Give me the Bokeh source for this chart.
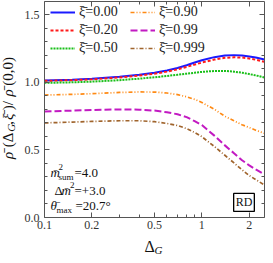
import math
from bokeh.plotting import figure
from bokeh.models import (Range1d, FixedTicker, LinearAxis, LogAxis, Legend,
                          LegendItem, Label)
from bokeh.embed import file_html
from bokeh.resources import INLINE

# ---------------- data ----------------
delta_g = [0.1, 0.15, 0.2, 0.3, 0.4, 0.5, 0.6, 0.7, 0.8, 0.9, 1.0, 1.2, 1.4,
           1.6, 1.8, 2.0, 2.2, 2.5]
rho_xi_000 = [1.013, 1.018, 1.025, 1.040, 1.055, 1.070, 1.087, 1.105, 1.125,
              1.145, 1.162, 1.185, 1.197, 1.200, 1.197, 1.190, 1.182, 1.168]
rho_xi_020 = [1.010, 1.015, 1.021, 1.035, 1.049, 1.063, 1.078, 1.095, 1.113,
              1.130, 1.145, 1.167, 1.180, 1.184, 1.182, 1.175, 1.166, 1.150]
rho_xi_050 = [0.995, 0.999, 1.004, 1.015, 1.026, 1.036, 1.046, 1.055, 1.063,
              1.070, 1.076, 1.083, 1.083, 1.078, 1.070, 1.060, 1.050, 1.035]
rho_xi_090 = [0.905, 0.910, 0.915, 0.924, 0.928, 0.927, 0.920, 0.908, 0.892,
              0.873, 0.850, 0.800, 0.748, 0.715, 0.685, 0.665, 0.645, 0.622]
rho_xi_099 = [0.783, 0.790, 0.795, 0.799, 0.797, 0.790, 0.778, 0.763, 0.742,
              0.712, 0.683, 0.605, 0.533, 0.475, 0.423, 0.385, 0.355, 0.318]
rho_xi_0999 = [0.699, 0.705, 0.710, 0.715, 0.715, 0.708, 0.695, 0.680, 0.657,
               0.628, 0.597, 0.525, 0.460, 0.403, 0.352, 0.310, 0.280, 0.240]
series_labels = ["ξ̄=0.00", "ξ̄=0.20", "ξ̄=0.50", "ξ̄=0.90", "ξ̄=0.99", "ξ̄=0.999"]
x_major = [0.1, 0.2, 0.5, 1, 2]
x_minor = [0.3, 0.4, 0.6, 0.7, 0.8, 0.9]
x_tick_labels = ["0.1", "0.2", "0.5", "1", "2"]
y_major = [0.0, 0.5, 1.0, 1.5]
y_minor = [0.1, 0.2, 0.3, 0.4, 0.6, 0.7, 0.8, 0.9, 1.1, 1.2, 1.3, 1.4]
y_tick_labels = ["0.0", "0.5", "1.0", "1.5"]

# ---------------- layout / styles ----------------
X0, X1, Y0, Y1 = 0.1, 2.5, 0.0, 1.6
PAGE_W, PAGE_H = 265, 255           # figure size, placed at page (8, 8)
REF_L, REF_R = 52, 272              # page x of X0 and X1
REF_B, REF_T = 223, 1               # page y of Y0 and Y1 in the reference
NEW_B, NEW_T = 225, 8.5             # page y of Y0 and Y1 here
SERIF = "Liberation Serif"
AX_COL = "#555555"
colors = ["#1a1aff", "#ff1a1a", "#19bf19", "#ff8a14", "#c21ac2", "#a0642c"]
dashes = ["solid", "3 2", "2 1", "4 2 1 2 1 2", "7 3", "4 2 1 2"]
widths = [2.0, 2.0, 2.0, 1.7, 2.0, 1.7]

kx = (math.log10(X1) - math.log10(X0)) / (REF_R - REF_L)
x_lo = 10 ** (math.log10(X0) - (REF_L - 8) * kx)
x_hi = 10 ** (math.log10(X0) + (8 + PAGE_W - REF_L) * kx)
ky = (Y1 - Y0) / (NEW_B - NEW_T)
y_lo = Y0 - (8 + PAGE_H - NEW_B) * ky
y_hi = Y1 + (NEW_T - 8) * ky


def xd(px):
    """reference page x -> data x"""
    return 10 ** (math.log10(X0) + (px - REF_L) * kx)


def yd(py):
    """reference page y -> data y"""
    return Y0 + (REF_B - py) / (REF_B - REF_T) * (Y1 - Y0)


def y_new(py):
    """reference page y -> page y here"""
    return NEW_B - (REF_B - py) * (NEW_B - NEW_T) / (REF_B - REF_T)


p = figure(width=PAGE_W, height=PAGE_H, x_axis_type="log",
           x_range=Range1d(x_lo, x_hi), y_range=Range1d(y_lo, y_hi),
           output_backend="svg", toolbar_location=None, min_border=0)
p.xgrid.visible = False
p.ygrid.visible = False
p.outline_line_color = None
p.background_fill_color = "white"
p.border_fill_color = "white"


def style_axis(ax, labels):
    ax.major_tick_in = 5
    ax.major_tick_out = 0
    ax.minor_tick_in = 3
    ax.minor_tick_out = 0
    ax.axis_line_color = AX_COL
    ax.major_tick_line_color = AX_COL
    ax.minor_tick_line_color = AX_COL
    ax.major_label_text_font = SERIF
    ax.major_label_text_font_size = "12px"
    ax.major_label_text_color = "#333333"
    ax.major_label_overrides = labels


xt = FixedTicker(ticks=x_major, minor_ticks=x_minor)
yt = FixedTicker(ticks=y_major, minor_ticks=y_minor)
x_lab = {v: s for v, s in zip(x_major, x_tick_labels)}
y_lab = {v: s for v, s in zip(y_major, y_tick_labels)}

bottom = p.xaxis[0]
bottom.ticker = xt
bottom.fixed_location = Y0
bottom.bounds = (X0, X1)
style_axis(bottom, x_lab)
bottom.major_label_standoff = 3

left = p.yaxis[0]
left.ticker = yt
left.fixed_location = X0
left.bounds = (Y0, Y1)
style_axis(left, y_lab)
left.major_label_standoff = 5

top = LogAxis(ticker=xt, fixed_location=Y1, bounds=(X0, X1))
style_axis(top, {v: "" for v in x_major})
p.add_layout(top, "above")
right = LinearAxis(ticker=yt, fixed_location=X1, bounds=(Y0, Y1))
style_axis(right, {v: "" for v in y_major})
p.add_layout(right, "right")

all_series = [rho_xi_000, rho_xi_020, rho_xi_050, rho_xi_090, rho_xi_099, rho_xi_0999]
renderers = []
for ys, c, d, w in zip(all_series, colors, dashes, widths):
    renderers.append(p.line(delta_g, ys, line_color=c, line_dash=d, line_width=w))

LEG_ROW, LEG_SP = 16, 2
leg_top = y_new(13) - LEG_ROW / 2
leg_bottom_off = (8 + PAGE_H) - (leg_top + 3 * LEG_ROW + 2 * LEG_SP)


def make_legend(idx, page_x):
    items = [LegendItem(label=series_labels[i], renderers=[renderers[i]]) for i in idx]
    return Legend(items=items, location=(page_x - 8, round(leg_bottom_off)),
                  padding=0, margin=0, spacing=LEG_SP, glyph_width=25,
                  glyph_height=LEG_ROW, label_height=LEG_ROW, label_standoff=4,
                  border_line_alpha=0, background_fill_alpha=0,
                  label_text_font=SERIF, label_text_font_size="14px",
                  label_text_color="#222222")


p.add_layout(make_legend([0, 1, 2], 58))
p.add_layout(make_legend([3, 4, 5], 138))


def add_text(text, px, py, size, style="normal", align="left", angle=0.0,
             baseline="middle", **kw):
    p.add_layout(Label(x=xd(px), y=yd(py), text=text, text_font=SERIF,
                       text_font_size=f"{size}px", text_font_style=style,
                       text_align=align, text_baseline=baseline, angle=angle,
                       text_color="#111111", **kw))


# parameter annotations
add_text("m̄", 58, 177, 13, "italic")
add_text("2", 66, 171, 9)
add_text("sum", 66, 181.5, 9)
add_text("=4.0", 82, 177, 13)
add_text("Δ", 62, 195.5, 13)
add_text("m̄", 69, 195.5, 13, "italic")
add_text("2", 77.5, 190, 9)
add_text("=+3.0", 82, 195.5, 13)
add_text("θ̄", 58, 211, 13, "italic")
add_text("max", 64, 215, 9)
add_text("=20.7°", 83, 211, 13)

# RD box (centred on the reference box centre)
add_text("RD", 251.5, 207.5, 12, align="center", border_line_color="black",
         border_line_width=1.3, background_fill_color="white", padding=2)

# x axis label
add_text("Δ", 152, 244, 16, baseline="top")
add_text("G", 162, 250.5, 11, "italic", baseline="top")

# y axis label (rotated, reading upward)
A = math.pi / 2
add_text("ρ̄", 15, 163, 15, "italic", angle=A)
add_text("(Δ", 15, 151, 15, angle=A)
add_text("G", 18, 135, 11, "italic", angle=A)
add_text(",", 15, 128, 15, angle=A)
add_text("ξ̄", 15, 123, 15, "italic", angle=A)
add_text(")/", 15, 113, 15, angle=A)
add_text("ρ̄", 15, 99, 15, "italic", angle=A)
add_text("(0,0)", 15, 88, 15, angle=A)

open("out.html", "w").write(file_html(p, INLINE))
